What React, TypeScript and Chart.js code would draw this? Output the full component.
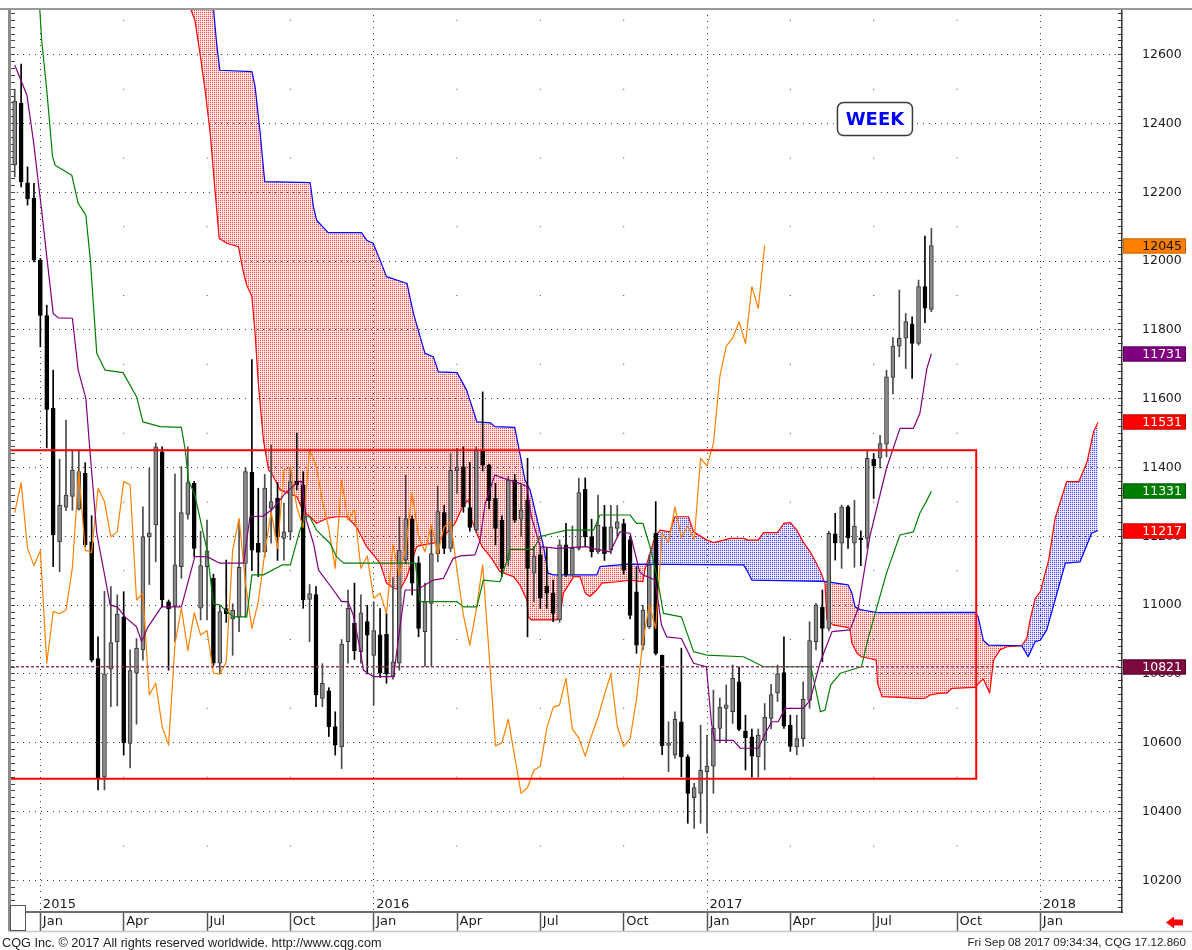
import React, { useEffect, useRef } from 'react';
import { Chart, registerables } from 'chart.js';

Chart.register(...registerables);

// ---------- weekly bars (first bar = week of Mon 8 Dec 2014) ----------
const FIRST_BAR_MONDAY = Date.UTC(2014, 11, 8);
const WEEK_MS = 7 * 24 * 3600 * 1000;

const openPrices = [
  12280, 12459, 12228, 12183, 12003, 11842, 11572, 11184, 11285, 11316,
  11279, 11383, 11184, 10845, 10500, 10814, 10893, 10966, 10598, 10802,
  10870, 11198, 11233, 11446, 11010, 10997, 11112, 11264, 11354, 10991,
  11112, 11078, 10831, 10990, 10960, 10965, 11121, 11386, 11180, 11155,
  11281, 11311, 11194, 11213, 11360, 11349, 11017, 11031, 10729, 10751,
  10647, 10588, 10894, 10947, 10865, 10952, 10854, 10914, 10916, 10792,
  10831, 11131, 11250, 11123, 10923, 11005, 11150, 11269, 11165, 11390,
  11402, 11284, 11218, 11451, 11407, 11311, 11247, 11131, 11364, 11250,
  11306, 11093, 11146, 11055, 11035, 10957, 11175, 11088, 11165, 11337,
  11199, 11155, 11228, 11160, 11223, 11237, 11190, 11039, 10884, 10937,
  11209, 10855, 10592, 10564, 10661, 10559, 10440, 10453, 10516, 10532,
  10642, 10700, 10690, 10777, 10634, 10617, 10559, 10607, 10671, 10744,
  10804, 10651, 10588, 10612, 10723, 10894, 10994, 10932, 11207, 11180,
  11286, 11180, 11196, 11194, 11424, 11427, 11468, 11662, 11753, 11776,
  11817, 11761, 11926, 11860,
];
const highPrices = [
  12500, 12573, 12274, 12226, 12008, 11872, 11683, 11424, 11538, 11451,
  11450, 11414, 11260, 10908, 11040, 11054, 11030, 11039, 10870, 10903,
  11286, 11398, 11471, 11460, 11015, 11381, 11403, 11460, 11360, 11215,
  11247, 11090, 11000, 11131, 11004, 11247, 11400, 11714, 11340, 11380,
  11466, 11356, 11297, 11400, 11500, 11388, 11060, 11054, 10830, 10760,
  10690, 10900, 11044, 11064, 11030, 11000, 11010, 10990, 10976, 11080,
  11257, 11378, 11260, 11141, 11064, 11220, 11346, 11290, 11441, 11456,
  11460, 11415, 11460, 11620, 11410, 11354, 11260, 11375, 11380, 11350,
  11427, 11170, 11170, 11165, 11073, 11190, 11238, 11230, 11369, 11370,
  11250, 11320, 11290, 11290, 11290, 11250, 11200, 11112, 11000, 11146,
  11301, 10855, 10661, 10690, 10875, 10565, 10482, 10651, 10622, 10753,
  10730, 10768, 10826, 10820, 10680, 10640, 10640, 10714, 10770, 10826,
  10908, 10680, 10680, 10777, 10952, 11005, 11044, 11215, 11267, 11291,
  11290, 11305, 11216, 11451, 11441, 11494, 11683, 11778, 11916, 11848,
  11838, 11945, 12073, 12095,
];
const lowPrices = [
  12245, 12216, 12163, 11998, 11751, 11457, 11112, 11097, 11275, 11276,
  11276, 11170, 10835, 10463, 10463, 10705, 10707, 10564, 10527, 10654,
  10840, 11060, 11126, 10995, 10811, 10894, 11078, 11250, 11140, 10957,
  10957, 10825, 10800, 10950, 10854, 10923, 10965, 11100, 11083, 11140,
  11180, 11130, 11131, 11190, 11335, 10991, 10894, 10705, 10705, 10618,
  10564, 10525, 10831, 10842, 10831, 10800, 10710, 10790, 10773, 10785,
  10811, 11121, 11030, 10908, 10822, 10822, 11126, 11150, 11155, 11325,
  11270, 11215, 11210, 11390, 11280, 11175, 11083, 11115, 11240, 11200,
  10908, 11010, 10990, 10990, 10952, 10950, 11083, 11083, 11160, 11170,
  11140, 11150, 11130, 11150, 11200, 11090, 10960, 10860, 10870, 10932,
  10855, 10565, 10516, 10555, 10501, 10366, 10351, 10366, 10337, 10453,
  10600, 10600, 10656, 10635, 10521, 10500, 10500, 10521, 10640, 10720,
  10642, 10575, 10565, 10589, 10700, 10870, 10836, 10925, 11131, 11107,
  11165, 11110, 11115, 11165, 11310, 11398, 11431, 11614, 11722, 11688,
  11659, 11756, 11821, 11853,
];
const closePrices = [
  12465, 12231, 12181, 12003, 11842, 11569, 11204, 11291, 11320, 11393,
  11388, 11175, 10840, 10496, 10800, 10891, 10974, 10600, 10810, 10875,
  11199, 11210, 11460, 11015, 10990, 11117, 11269, 11356, 11165, 11115,
  11158, 10831, 10981, 10975, 10985, 11110, 11388, 11160, 11153, 11340,
  11301, 11199, 11213, 11359, 11350, 11015, 11034, 10739, 10773, 10647,
  10593, 10887, 10991, 10868, 10978, 10913, 10926, 10802, 10800, 10835,
  11160, 11252, 11064, 10932, 11010, 11150, 11272, 11165, 11392, 11400,
  11286, 11226, 11451, 11407, 11304, 11223, 11107, 11364, 11247, 11277,
  11107, 11143, 11020, 11035, 10976, 11175, 11088, 11165, 11327, 11199,
  11155, 11233, 11150, 11228, 11242, 11102, 10970, 10884, 10986, 11117,
  10860, 10591, 10600, 10668, 10559, 10453, 10470, 10520, 10532, 10642,
  10703, 10710, 10787, 10639, 10614, 10561, 10622, 10674, 10740, 10800,
  10648, 10589, 10612, 10726, 10897, 11000, 10932, 11209, 11181, 11286,
  11196, 11230, 11190, 11427, 11405, 11470, 11664, 11753, 11776, 11824,
  11761, 11926, 11863, 12045,
];

// Chikou span = close plotted 26 bars back
const CHIKOU_LAG = 26;

// Ichimoku lines: [bar index, value]
const tenkanSen = [
  [0, 12570], [1.9, 12483], [2.9, 12352], [4.2, 12148], [5, 12013], [6, 11848], [6.8, 11835], [9, 11834],
  [9.9, 11683], [11.1, 11601], [11.6, 11480], [12.8, 11209], [14.9, 11000], [16, 10995], [17.2, 10966],
  [19, 10937], [19.8, 10894], [20.8, 10937], [22.9, 10995], [26, 10995], [28.1, 11141], [30, 11141],
  [32, 11122], [35.7, 11122], [36.7, 11257], [38.8, 11259], [40.3, 11281], [42.2, 11325], [44.2, 11359],
  [44.8, 11359], [45.5, 11247], [46.6, 11180], [47.4, 11102], [49.7, 11044], [51, 11010], [52, 11010],
  [52.8, 10972], [53.9, 10870], [54.4, 10811], [56, 10792], [59.1, 10792], [60.1, 10937], [60.9, 11044],
  [62.7, 11044], [65.3, 11073], [66.9, 11078], [68.4, 11136], [69.5, 11143], [71.8, 11146], [72.6, 11189],
  [73.4, 11296], [74.9, 11378], [77, 11364], [78.8, 11354], [79.9, 11345], [80.6, 11257], [82, 11170],
  [84.6, 11165], [89.2, 11170], [90, 11165], [92.9, 11155], [94.4, 11213], [96, 11209], [97.5, 11097],
  [98, 11088], [99.9, 11073], [100.9, 10942], [101.7, 10908], [104, 10903], [105.9, 10831], [107.9, 10821],
  [108.7, 10656], [109.2, 10607], [112.1, 10607], [113.2, 10584], [116, 10584], [117.1, 10627],
  [118.1, 10661], [119.1, 10661], [120.2, 10700], [123, 10700], [124.1, 10724], [125.6, 10831],
  [127.5, 10923], [130.3, 10928], [131.6, 10991], [133.4, 11199], [136, 11398], [138.1, 11514],
  [140.2, 11514], [141.2, 11557], [142.3, 11688], [143, 11731],
];
const kijunSen = [
  [0, 12900], [3.9, 12735], [4.2, 12643], [5, 12497], [5.9, 12304], [6.3, 12279], [8.9, 12250], [9.9, 12168],
  [11.1, 12134], [11.8, 12003], [12.8, 11732], [14.1, 11683], [16.9, 11676], [19, 11606], [20, 11533],
  [22.7, 11519], [26, 11517], [26.6, 11451], [27.1, 11364], [28.1, 11320], [30, 11160], [31, 11004],
  [32, 11000], [34.1, 10966], [36.2, 10966], [37, 11088], [38.8, 11088], [41.7, 11117], [43, 11117],
  [44.5, 11218], [45.3, 11257], [46, 11257], [47.1, 11218], [48.1, 11199], [49.2, 11180], [50.2, 11141],
  [51.3, 11122], [62.5, 11122], [63.2, 11010], [69, 11010], [70, 10995], [72.1, 10995], [73.1, 11073],
  [75.7, 11068], [76.8, 11131], [77.3, 11162], [80.9, 11162], [82, 11199], [84, 11209], [86.1, 11218],
  [90.3, 11218], [91.3, 11262], [96, 11262], [97, 11238], [98, 11238], [99.1, 11170], [100.2, 11083],
  [101.2, 10976], [104, 10966], [105.9, 10865], [107.9, 10855], [113.7, 10850], [115.2, 10836],
  [116.8, 10821], [124.2, 10821], [125.7, 10690], [126.4, 10695], [127.3, 10768], [128.8, 10802],
  [132.1, 10821], [133.2, 10908], [136, 11093], [138.1, 11204], [140.2, 11213], [141.2, 11267],
  [142.2, 11301], [143, 11331],
];
const senkouSpanA = [
  [-1, 13700], [27.4, 12735], [28.1, 12701], [28.9, 12604], [29.7, 12497], [30.5, 12371], [31.2, 12216],
  [31.9, 12066], [33.1, 12052], [34.9, 12042], [35.7, 11965], [36.2, 11930], [37, 11897], [37.5, 11790],
  [38, 11645], [38.8, 11480], [39.6, 11393], [40.1, 11383], [41.4, 11335], [42.7, 11325], [44, 11316],
  [45, 11272], [46.1, 11257], [47.1, 11238], [48.7, 11252], [50.2, 11257], [51.8, 11257], [53.3, 11228],
  [54.9, 11170], [57, 11122], [58, 11064], [59.1, 11050], [60.1, 11044], [61.2, 11083], [62.7, 11170],
  [63.7, 11175], [65.3, 11180], [66.9, 11199], [68.7, 11238], [70, 11291], [70.8, 11306], [71.3, 11247],
  [72.3, 11199], [72.9, 11170], [74.4, 11136], [75.7, 11097], [77.8, 11083], [78.8, 11059], [79.9, 11015],
  [80.1, 10966], [80.6, 10957], [84.6, 10957], [85.1, 10972], [85.6, 11035], [87.2, 11083], [88.2, 11083],
  [89, 11035], [89.7, 11025], [90.8, 11044], [91.6, 11064], [94, 11068], [96, 11073], [98, 11068],
  [98.3, 11102], [99.1, 11150], [99.9, 11199], [100.7, 11218], [102.2, 11213], [103, 11257], [105.1, 11257],
  [105.9, 11213], [108, 11189], [109, 11182], [110.6, 11189], [111.6, 11194], [113.7, 11194], [114.4, 11189],
  [116, 11189], [116.8, 11211], [119, 11211], [120, 11238], [121, 11240], [122, 11218], [123, 11184],
  [124.1, 11155], [125.6, 11102], [126.4, 11064], [126.7, 10957], [127.7, 10942], [129.5, 10937],
  [130.3, 10932], [130.6, 10889], [131.4, 10860], [132.1, 10850], [133.4, 10845], [134.4, 10840],
  [134.6, 10773], [135.3, 10734], [138.1, 10732], [140.2, 10729], [142, 10729], [142.8, 10739],
  [144.4, 10744], [145.4, 10744], [146.2, 10758], [149.8, 10761], [150.6, 10777], [151.1, 10785],
  [152.1, 10745], [152.7, 10840], [153.7, 10870], [154.8, 10879], [157.1, 10882], [157.9, 10904],
  [158.4, 10957], [159.2, 11020], [160, 11039], [161.3, 11131], [162.3, 11252], [164.1, 11359],
  [166, 11359], [167.3, 11417], [168.3, 11504], [169, 11531],
];
const senkouSpanB = [
  [-1, 14300], [28, 13100], [31, 12735], [31.5, 12633], [32, 12555], [37, 12551], [37.5, 12507],
  [38.3, 12371], [39, 12231], [46.1, 12228], [46.6, 12158], [47.1, 12119], [48.9, 12083], [54.1, 12083],
  [54.9, 12061], [55.9, 12052], [57, 12003], [58, 11955], [61.2, 11935], [62.2, 11848], [64, 11732],
  [65.3, 11722], [66.1, 11678], [69, 11676], [70.5, 11625], [72.1, 11533], [74.2, 11530], [74.9, 11519],
  [78, 11517], [78.6, 11461], [79.6, 11364], [80.4, 11335], [81.4, 11257], [82.5, 11170], [83.2, 11093],
  [84, 11088], [90.8, 11088], [91.3, 11112], [95.5, 11119], [113.7, 11117], [114.2, 11102], [115, 11073],
  [126.2, 11069], [130, 11059], [130.6, 11035], [131.1, 10995], [131.9, 10987], [134.7, 10978],
  [149.8, 10979], [150.3, 10966], [151.1, 10898], [151.9, 10884], [157.1, 10882], [158.1, 10850],
  [159.2, 10894], [160, 10898], [161, 10928], [162.3, 11015], [163.9, 11122], [166.2, 11126],
  [168, 11209], [169, 11217],
];

// Trading range box and marked level
const RANGE_HIGH = 11450;
const RANGE_LOW = 10495;
const RANGE_END_BAR = 150;
const MARKED_LEVEL = 10821;

// Axis tick labels (quarter months)
const quarterMonths = [
  [2015, 1], [2015, 4], [2015, 7], [2015, 10],
  [2016, 1], [2016, 4], [2016, 7], [2016, 10],
  [2017, 1], [2017, 4], [2017, 7], [2017, 10],
  [2018, 1],
];
const MONTH_NAMES: Record<number, string> = { 1: 'Jan', 4: 'Apr', 7: 'Jul', 10: 'Oct' };

const Y_MIN = 10108;
const Y_MAX = 12733;
const X_MIN = -0.58;
const X_MAX = 172.74;

const WEEK_LABEL_BAR = 134.2;
const WEEK_LABEL_LEVEL = 12413;

// ---------- derived helpers ----------
const quarterTicks = quarterMonths.map(([y, m]) => ({
  index: Math.ceil((Date.UTC(y, m - 1, 1) - FIRST_BAR_MONDAY) / WEEK_MS),
  month: MONTH_NAMES[m],
  year: m === 1 ? String(y) : '',
}));

const minorLevels: number[] = [];
for (let v = Math.ceil(Y_MIN / 20) * 20; v <= Y_MAX; v += 20) minorLevels.push(v);

const lastOf = (s: number[][]) => s[s.length - 1][1];
const axisMarkers = [
  { value: closePrices[closePrices.length - 1], bg: '#ff8000', edge: '#c86400', fg: '#101010' },
  { value: lastOf(tenkanSen), bg: '#800080', edge: '#5a005a', fg: '#ffffff' },
  { value: lastOf(senkouSpanA), bg: '#ff0000', edge: '#c00000', fg: '#ffffff' },
  { value: lastOf(kijunSen), bg: '#008000', edge: '#005a00', fg: '#ffffff' },
  { value: lastOf(senkouSpanB), bg: '#ff0000', edge: '#c00000', fg: '#ffffff' },
  { value: MARKED_LEVEL, bg: '#7d0a3e', edge: '#55052a', fg: '#ffffff' },
];

function makePattern(rgb: string): any {
  const c = document.createElement('canvas');
  c.width = 2;
  c.height = 2;
  const g = c.getContext('2d') as CanvasRenderingContext2D;
  g.fillStyle = `rgba(${rgb},0.7)`;
  g.fillRect(0, 0, 1, 1);
  g.fillStyle = `rgba(${rgb},0.16)`;
  g.fillRect(1, 0, 1, 1);
  g.fillRect(0, 1, 1, 1);
  return g.createPattern(c, 'repeat');
}

function roundRectPath(ctx: CanvasRenderingContext2D, x: number, y: number, w: number, h: number, r: number) {
  ctx.beginPath();
  ctx.moveTo(x + r, y);
  ctx.arcTo(x + w, y, x + w, y + h, r);
  ctx.arcTo(x + w, y + h, x, y + h, r);
  ctx.arcTo(x, y + h, x, y, r);
  ctx.arcTo(x, y, x + w, y, r);
  ctx.closePath();
}

const overlayPlugin = {
  id: 'cqgOverlay',
  afterDraw(chart: any) {
    const { ctx, chartArea: a, scales } = chart;
    const xs = scales.x;
    const ys = scales.y;
    const W = chart.width;
    const bandBottom = a.bottom + 19;
    ctx.save();

    // frame: top line, left line, band bottom line
    ctx.strokeStyle = '#9a9a9a';
    ctx.lineWidth = 2;
    ctx.beginPath();
    ctx.moveTo(0, a.top);
    ctx.lineTo(W, a.top);
    ctx.stroke();

    ctx.strokeStyle = '#8c8c8c';
    ctx.lineWidth = 3;
    ctx.beginPath();
    ctx.moveTo(a.left - 1.5, a.top);
    ctx.lineTo(a.left - 1.5, bandBottom + 1);
    ctx.stroke();

    ctx.strokeStyle = '#c8c8c8';
    ctx.lineWidth = 1.5;
    ctx.beginPath();
    ctx.moveTo(a.left - 3, bandBottom + 0.5);
    ctx.lineTo(W, bandBottom + 0.5);
    ctx.stroke();

    // small box at bottom-left
    ctx.fillStyle = '#ffffff';
    ctx.fillRect(a.left - 1, a.bottom - 7, 16, 26);
    ctx.strokeStyle = '#555555';
    ctx.lineWidth = 1;
    ctx.strokeRect(a.left - 0.5, a.bottom - 6.5, 15, 25);

    // value markers on the price axis
    ctx.font = '12.5px "DejaVu Sans"';
    ctx.textAlign = 'right';
    ctx.textBaseline = 'middle';
    for (const m of axisMarkers) {
      const yp = Math.round(ys.getPixelForValue(m.value));
      ctx.fillStyle = m.bg;
      ctx.fillRect(a.right + 1, yp - 7.5, 63, 15);
      ctx.strokeStyle = m.edge;
      ctx.lineWidth = 1;
      ctx.strokeRect(a.right + 1.5, yp - 7, 62, 14);
      ctx.fillStyle = m.fg;
      ctx.fillText(String(Math.round(m.value)), a.right + 60, yp + 0.5);
    }

    // WEEK label
    const wx = xs.getPixelForValue(WEEK_LABEL_BAR);
    const wy = ys.getPixelForValue(WEEK_LABEL_LEVEL);
    roundRectPath(ctx, wx - 37.5, wy - 16.5, 75, 33, 6);
    ctx.fillStyle = '#ffffff';
    ctx.fill();
    ctx.strokeStyle = '#3a3a3a';
    ctx.lineWidth = 1.5;
    ctx.stroke();
    ctx.font = 'bold 18px "DejaVu Sans"';
    ctx.textAlign = 'center';
    ctx.fillStyle = '#0000ff';
    ctx.fillText('WEEK', wx, wy + 1);

    // footer
    ctx.fillStyle = '#222222';
    ctx.textBaseline = 'middle';
    ctx.textAlign = 'left';
    ctx.font = '12.7px "Liberation Sans"';
    ctx.fillText('CQG Inc. \u00a9 2017 All rights reserved worldwide. http://www.cqg.com', 2, bandBottom + 12);
    ctx.textAlign = 'right';
    ctx.font = '11.6px "Liberation Sans"';
    ctx.fillText('Fri Sep 08 2017 09:34:34, CQG 17.12.860', W - 6, bandBottom + 12);

    // red arrow
    const ay = a.bottom + 10.5;
    const ax = W - 26;
    ctx.fillStyle = '#ff0000';
    ctx.beginPath();
    ctx.moveTo(ax, ay);
    ctx.lineTo(ax + 8, ay - 6);
    ctx.lineTo(ax + 8, ay - 3);
    ctx.lineTo(ax + 17, ay - 3);
    ctx.lineTo(ax + 17, ay + 3);
    ctx.lineTo(ax + 8, ay + 3);
    ctx.lineTo(ax + 8, ay + 6);
    ctx.closePath();
    ctx.fill();

    ctx.restore();
  },
};

const noPadding = (s: any) => {
  s.paddingTop = 0;
  s.paddingBottom = 0;
  s.paddingLeft = 0;
  s.paddingRight = 0;
};

export default function App() {
  const canvasRef = useRef<HTMLCanvasElement>(null);

  useEffect(() => {
    document.body.style.margin = '0';
    const canvas = canvasRef.current as HTMLCanvasElement;
    const redPattern = makePattern('255,0,0');
    const bluePattern = makePattern('0,0,255');

    const bars = openPrices.map((_, i) => i);
    const up = (i: number) => closePrices[i] >= openPrices[i];

    const gridDots: { x: number; y: number }[] = [];
    quarterTicks
      .filter((t) => t.month !== 'Jan')
      .forEach((t) => {
        minorLevels
          .filter((v) => v % 200 === 100)
          .forEach((v) => gridDots.push({ x: t.index, y: v }));
      });

    const lineBase = {
      type: 'line',
      pointRadius: 0,
      pointHoverRadius: 0,
      tension: 0,
      borderJoinStyle: 'round',
      fill: false,
    };

    const chart = new Chart(canvas, {
      type: 'line',
      data: {
        datasets: [
          {
            ...lineBase,
            label: 'Senkou Span A',
            data: senkouSpanA.map(([x, y]) => ({ x, y })),
            borderColor: '#ff0000',
            borderWidth: 1.2,
            fill: { target: 1, above: bluePattern, below: redPattern },
            order: 10,
          },
          {
            ...lineBase,
            label: 'Senkou Span B',
            data: senkouSpanB.map(([x, y]) => ({ x, y })),
            borderColor: '#0000ff',
            borderWidth: 1.2,
            order: 9,
          },
          {
            type: 'bar',
            label: 'range',
            data: bars.map((i) => ({ x: i, y: [lowPrices[i], highPrices[i]] })),
            barThickness: 1,
            grouped: false,
            backgroundColor: bars.map((i) => (up(i) ? '#4a4a4a' : '#000000')),
            borderWidth: 0,
            order: 8,
          },
          {
            type: 'bar',
            label: 'body',
            data: bars.map((i) => ({ x: i, y: [openPrices[i], closePrices[i]] })),
            barThickness: 4,
            grouped: false,
            minBarLength: 1,
            backgroundColor: bars.map((i) => (up(i) ? '#8a8a8a' : '#000000')),
            borderColor: bars.map((i) => (up(i) ? '#353535' : '#000000')),
            borderWidth: 1,
            borderSkipped: false,
            order: 7,
          },
          {
            ...lineBase,
            label: 'Trading range',
            data: [
              { x: X_MIN, y: RANGE_HIGH },
              { x: RANGE_END_BAR, y: RANGE_HIGH },
              { x: RANGE_END_BAR, y: RANGE_LOW },
              { x: X_MIN, y: RANGE_LOW },
            ],
            borderColor: '#ff0000',
            borderWidth: 2,
            borderJoinStyle: 'miter',
            order: 1,
          },
          {
            ...lineBase,
            label: 'Level',
            data: [
              { x: X_MIN, y: MARKED_LEVEL },
              { x: X_MAX, y: MARKED_LEVEL },
            ],
            borderColor: '#8e3a64',
            borderWidth: 1.5,
            borderDash: [3, 2],
            order: 2,
          },
          {
            ...lineBase,
            label: 'Chikou Span',
            data: closePrices.slice(CHIKOU_LAG).map((c, k) => ({ x: k, y: c })),
            borderColor: '#ff8000',
            borderWidth: 1.2,
            order: 5,
          },
          {
            ...lineBase,
            label: 'Kijun-sen',
            data: kijunSen.map(([x, y]) => ({ x, y })),
            borderColor: '#008000',
            borderWidth: 1.2,
            order: 4,
          },
          {
            ...lineBase,
            label: 'Tenkan-sen',
            data: tenkanSen.map(([x, y]) => ({ x, y })),
            borderColor: '#800080',
            borderWidth: 1.2,
            order: 3,
          },
          {
            ...lineBase,
            label: 'grid dots',
            data: gridDots,
            showLine: false,
            pointRadius: 0.7,
            pointStyle: 'rect',
            pointBackgroundColor: '#444444',
            pointBorderWidth: 0,
            order: 11,
          },
        ] as any,
      },
      options: {
        responsive: false,
        animation: false,
        devicePixelRatio: 1,
        events: [],
        layout: { padding: { top: 9, bottom: 19, left: 0, right: 0 } },
        plugins: { legend: { display: false }, tooltip: { enabled: false } },
        scales: {
          x: {
            type: 'linear',
            position: 'bottom',
            offset: false,
            min: X_MIN,
            max: X_MAX,
            afterBuildTicks: (s: any) => {
              s.ticks = quarterTicks.map((t) => ({ value: t.index }));
            },
            afterFit: (s: any) => {
              s.height = 19;
              noPadding(s);
            },
            ticks: {
              autoSkip: false,
              maxRotation: 0,
              minRotation: 0,
              align: 'start',
              mirror: true,
              padding: -1.25,
              labelOffset: 2.5,
              color: '#1a1a1a',
              font: { family: 'DejaVu Sans', size: 13, lineHeight: '16.5px' },
              callback: (_v: any, idx: number) => {
                const t = quarterTicks[idx];
                return t ? [t.year, t.month] : '';
              },
            },
            grid: {
              offset: false,
              color: (c: any) => (quarterTicks[c.index] && quarterTicks[c.index].month === 'Jan' ? '#3a3a3a' : 'rgba(0,0,0,0)'),
              lineWidth: 1,
              drawTicks: true,
              tickLength: 19,
              tickColor: '#555555',
              tickWidth: 1.5,
            },
            border: { display: true, color: '#6e6e6e', width: 2, dash: [1, 5] },
          },
          y: {
            type: 'linear',
            position: 'right',
            min: Y_MIN,
            max: Y_MAX,
            beginAtZero: false,
            afterBuildTicks: (s: any) => {
              s.ticks = minorLevels.map((v) => ({ value: v }));
            },
            afterFit: (s: any) => {
              s.width = 70;
              noPadding(s);
            },
            ticks: {
              autoSkip: false,
              padding: 24,
              color: '#1a1a1a',
              font: { family: 'DejaVu Sans', size: 12.5 },
              callback: (v: any) => (Number(v) % 200 === 0 ? String(v) : ''),
            },
            grid: {
              color: (c: any) => (c.tick && c.tick.value % 200 === 0 ? '#3a3a3a' : 'rgba(0,0,0,0)'),
              lineWidth: 1,
              drawTicks: true,
              tickLength: -4,
              tickColor: '#333333',
              tickWidth: 1,
            },
            border: { display: true, color: '#333333', width: 1.5, dash: [1, 5] },
          },
          yl: {
            type: 'linear',
            position: 'left',
            min: Y_MIN,
            max: Y_MAX,
            afterBuildTicks: (s: any) => {
              s.ticks = minorLevels.map((v) => ({ value: v }));
            },
            afterFit: (s: any) => {
              s.width = 11;
              noPadding(s);
            },
            ticks: { display: false, autoSkip: false },
            grid: {
              drawOnChartArea: false,
              drawTicks: true,
              tickLength: -4,
              tickColor: '#444444',
              tickWidth: 1,
            },
            border: { display: false },
          },
        },
      } as any,
      plugins: [overlayPlugin],
    } as any);

    return () => chart.destroy();
  }, []);

  return <canvas ref={canvasRef} width={1192} height={950} style={{ display: 'block' }} />;
}
